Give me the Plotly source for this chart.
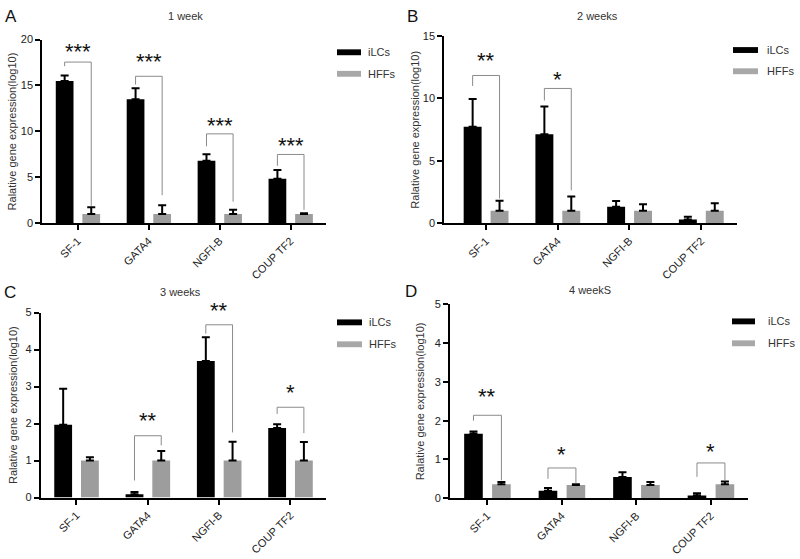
import plotly.graph_objects as go

W, H = 800, 559

categories = ["SF-1", "GATA4", "NGFI-B", "COUP TF2"]
series_names = ["iLCs", "HFFs"]

# Panel A - 1 week
A_ilc = [15.5, 13.5, 6.8, 4.85]
A_ilc_sd = [0.6, 1.2, 0.7, 0.95]
A_hff = [1.0, 1.0, 1.0, 1.0]
A_hff_sd = [0.75, 0.95, 0.47, 0.08]
A_yticks = [0, 5, 10, 15, 20]

# Panel B - 2 weeks
B_ilc = [7.74, 7.14, 1.33, 0.29]
B_ilc_sd = [2.22, 2.22, 0.45, 0.22]
B_hff = [1.0, 1.0, 1.0, 1.0]
B_hff_sd = [0.8, 1.15, 0.52, 0.6]
B_yticks = [0, 5, 10, 15]

# Panel C - 3 weeks
C_ilc = [1.97, 0.09, 3.69, 1.88]
C_ilc_sd = [0.97, 0.06, 0.64, 0.1]
C_hff = [1.0, 1.0, 1.0, 1.0]
C_hff_sd = [0.09, 0.26, 0.51, 0.5]
C_yticks = [0, 1, 2, 3, 4, 5]

# Panel D - 4 weeks
D_ilc = [1.66, 0.19, 0.55, 0.07]
D_ilc_sd = [0.06, 0.07, 0.12, 0.06]
D_hff = [0.36, 0.34, 0.34, 0.36]
D_hff_sd = [0.06, 0.02, 0.08, 0.07]
D_yticks = [0, 1, 2, 3, 4, 5]

# significance brackets: (category index, stars, left-leg bottom, top, right-leg bottom, star y)
A_sig = [(0, "***", 17.1, 17.55, 1.9, 19.1), (1, "***", 15.1, 16.0, 3.06, 18.04),
         (2, "***", 8.38, 9.73, 2.34, 11.05), (3, "***", 6.25, 7.49, 1.46, 8.92)]
B_sig = [(0, "**", 11.0, 11.84, 1.98, 13.36), (1, "*", 9.83, 10.8, 2.64, 11.8)]
C_sig = [(1, "**", 0.46, 1.67, 1.41, 2.18), (2, "**", 4.43, 4.67, 1.76, 5.16),
         (3, "*", 2.26, 2.44, 1.74, 2.94)]
D_sig = [(0, "**", 2.0, 2.14, 0.46, 2.73), (1, "*", 0.5, 0.78, 0.38, 1.22),
         (3, "*", 0.55, 0.91, 0.47, 1.3)]

titles = ["1 week", "2 weeks", "3 weeks", "4 weekS"]
letters = ["A", "B", "C", "D"]
ytitle = "Ralative gene expression(log10)"

BLACK = "#000000"
GRAY = "#9d9d9d"
BRACKET = "#8a8a8a"
FONT = "Liberation Sans, Arial, sans-serif"


def px(x):
    return x / W


def py(y):
    return 1 - y / H


panels = [
    dict(ilc=A_ilc, ilc_sd=A_ilc_sd, hff=A_hff, hff_sd=A_hff_sd, yt=A_yticks, sig=A_sig,
         xd=(42.3, 326), yd=(222, 34.3), xr=(-0.5, 3.5),
         title=(185, 10), letter=(11, 11), ytl=12, leg=(337, 361, 47.3, 69.3, 366)),
    dict(ilc=B_ilc, ilc_sd=B_ilc_sd, hff=B_hff, hff_sd=B_hff_sd, yt=B_yticks, sig=B_sig,
         xd=(444.3, 737), yd=(222, 30.7), xr=(-0.58, 3.5),
         title=(597, 10), letter=(412, 11), ytl=415, leg=(733, 758, 45, 66.7, 765)),
    dict(ilc=C_ilc, ilc_sd=C_ilc_sd, hff=C_hff, hff_sd=C_hff_sd, yt=C_yticks, sig=C_sig,
         xd=(40.7, 326), yd=(502.3, 313.3), xr=(-0.5, 3.5),
         title=(180, 292), letter=(10, 293), ytl=13, leg=(337, 362, 323.3, 345.7, 367)),
    dict(ilc=D_ilc, ilc_sd=D_ilc_sd, hff=D_hff, hff_sd=D_hff_sd, yt=D_yticks, sig=D_sig,
         xd=(450, 748), yd=(503, 305), xr=(-0.5, 3.5),
         title=(590, 290), letter=(411, 292), ytl=420, leg=(732, 755, 322.3, 344.7, 766)),
]

fig = go.Figure()
annotations = []
shapes = []
xpos = list(range(len(categories)))

for k, p in enumerate(panels):
    n = "" if k == 0 else str(k + 1)
    xa, ya = "x" + n, "y" + n
    ymax = p["yt"][-1]
    ppu = (p["yd"][0] - p["yd"][1]) / ymax  # pixels per unit
    for vals, sd, color, off in [(p["ilc"], p["ilc_sd"], BLACK, -0.31),
                                  (p["hff"], p["hff_sd"], GRAY, 0.065)]:
        fig.add_trace(go.Bar(
            x=xpos, y=vals, width=0.25, offset=off, marker=dict(color=color, line=dict(width=0)),
            error_y=dict(type="data", array=sd, arrayminus=[0] * len(sd), symmetric=False,
                         color=BLACK, thickness=2, width=4),
            xaxis=xa, yaxis=ya, hoverinfo="skip", showlegend=False))
    for (ci, stars, lb, top, rb, sy) in p["sig"]:
        xl, xr_ = ci - 0.185, ci + 0.19
        fig.add_trace(go.Scatter(
            x=[xl, xl, xr_, xr_], y=[lb, top, top, rb], mode="lines",
            line=dict(color=BRACKET, width=1), xaxis=xa, yaxis=ya,
            hoverinfo="skip", showlegend=False, cliponaxis=False))
        yy = min(sy, ymax)
        extra = (sy - yy) * ppu
        annotations.append(dict(x=ci, y=yy, xref=xa, yref=ya, text=stars, showarrow=False,
                                yshift=-4 + extra, font=dict(size=22, color="#111", family=FONT)))
    axis_common = dict(showline=True, linewidth=2, linecolor="black", ticks="outside",
                       ticklen=5, tickwidth=2, tickcolor="black", showgrid=False,
                       zeroline=False, tickfont=dict(size=11, color="#222", family=FONT))
    fig.layout["xaxis" + n] = dict(
        domain=[px(p["xd"][0]), px(p["xd"][1])], range=list(p["xr"]), anchor=ya,
        tickvals=xpos, ticktext=categories, tickangle=-45, fixedrange=True, **axis_common)
    fig.layout["yaxis" + n] = dict(
        domain=[py(p["yd"][0]), py(p["yd"][1])], range=[0, ymax], anchor=xa,
        tickvals=p["yt"], fixedrange=True, **axis_common)
    annotations.append(dict(x=px(p["title"][0]), y=py(p["title"][1]), xref="paper", yref="paper",
                            text=titles[k], showarrow=False, xanchor="center", yanchor="middle",
                            font=dict(size=11, color="#333", family=FONT)))
    annotations.append(dict(x=px(p["letter"][0]), y=py(p["letter"][1]), xref="paper", yref="paper",
                            text=letters[k], showarrow=False, xanchor="center", yanchor="middle",
                            font=dict(size=17, color="#111", family=FONT)))
    ymid = (p["yd"][0] + p["yd"][1]) / 2
    annotations.append(dict(x=px(p["ytl"]), y=py(ymid), xref="paper", yref="paper",
                            text=ytitle, showarrow=False, textangle=-90,
                            xanchor="center", yanchor="middle",
                            font=dict(size=11, color="#333", family=FONT)))
    x0, x1, yb, yg, tx = p["leg"]
    for yy, col, name in [(yb, BLACK, series_names[0]), (yg, "#a8a8a8", series_names[1])]:
        shapes.append(dict(type="rect", xref="paper", yref="paper",
                           x0=px(x0), x1=px(x1), y0=py(yy + 3), y1=py(yy - 3),
                           fillcolor=col, line=dict(width=0)))
        annotations.append(dict(x=px(tx), y=py(yy), xref="paper", yref="paper", text=name,
                                showarrow=False, xanchor="left", yanchor="middle",
                                font=dict(size=11, color="#333", family=FONT)))

fig.update_layout(width=W, height=H, margin=dict(l=0, r=0, t=0, b=0),
                  plot_bgcolor="white", paper_bgcolor="white", showlegend=False,
                  annotations=annotations, shapes=shapes, barmode="overlay")

fig.write_html("out.html", config={"displayModeBar": False},
               post_script="document.body.style.margin='0';document.body.style.overflow='hidden';")
